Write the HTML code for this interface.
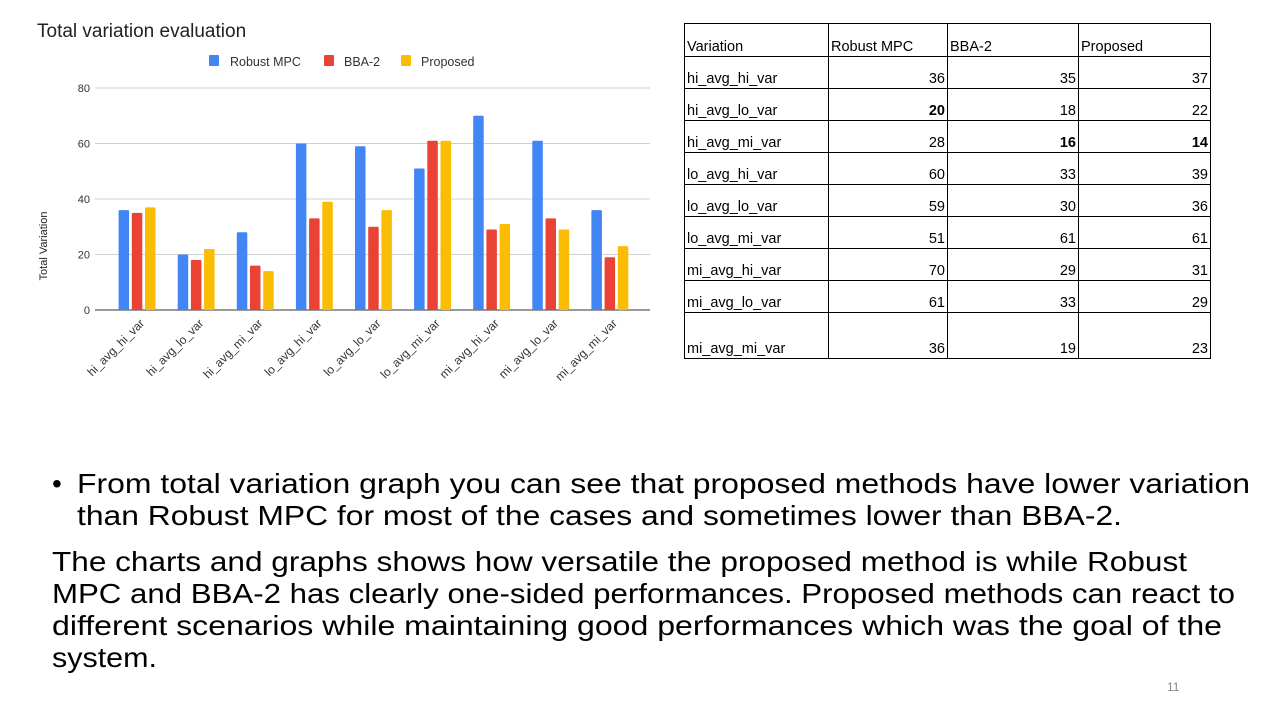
<!DOCTYPE html>
<html><head><meta charset="utf-8"><style>
body{margin:0;width:1280px;height:720px;background:#fff;font-family:"Liberation Sans",sans-serif;overflow:hidden;position:relative}
.abs{position:absolute}
table{border-collapse:collapse;position:absolute;left:684px;top:23px;font-size:14.5px;color:#000}
td{border:1px solid #000;padding:0 2px;vertical-align:bottom;height:31px;line-height:17px}
td.n{text-align:right}
.ln{position:absolute;font-size:28px;line-height:32px;white-space:nowrap;color:#000;transform-origin:0 0}
</style></head><body>
<svg class="abs" style="left:0;top:0" width="680" height="430" id="chart">
<text x="37" y="37" font-size="19" fill="#222">Total variation evaluation</text>
<g>
<rect x="209" y="55" width="10" height="11" rx="1" fill="#4285f4"/><text x="230" y="66" font-size="12.5" fill="#333">Robust MPC</text>
<rect x="324" y="55" width="10" height="11" rx="1" fill="#ea4335"/><text x="344" y="66" font-size="12.5" fill="#333">BBA-2</text>
<rect x="401" y="55" width="10" height="11" rx="1" fill="#fbbc04"/><text x="421" y="66" font-size="12.5" fill="#333">Proposed</text>
</g>
<text transform="translate(47,246) rotate(-90)" text-anchor="middle" font-size="11" fill="#222">Total Variation</text>
<g id="grid"></g><g id="bars"></g><g id="xl"></g>
</svg>
<table>
<tr style="height:33px"><td style="width:139px">Variation</td><td style="width:114px">Robust MPC</td><td style="width:126px">BBA-2</td><td style="width:127px">Proposed</td></tr>
<tr><td>hi_avg_hi_var</td><td class="n">36</td><td class="n">35</td><td class="n">37</td></tr>
<tr><td>hi_avg_lo_var</td><td class="n"><b>20</b></td><td class="n">18</td><td class="n">22</td></tr>
<tr><td>hi_avg_mi_var</td><td class="n">28</td><td class="n"><b>16</b></td><td class="n"><b>14</b></td></tr>
<tr><td>lo_avg_hi_var</td><td class="n">60</td><td class="n">33</td><td class="n">39</td></tr>
<tr><td>lo_avg_lo_var</td><td class="n">59</td><td class="n">30</td><td class="n">36</td></tr>
<tr><td>lo_avg_mi_var</td><td class="n">51</td><td class="n">61</td><td class="n">61</td></tr>
<tr><td>mi_avg_hi_var</td><td class="n">70</td><td class="n">29</td><td class="n">31</td></tr>
<tr><td>mi_avg_lo_var</td><td class="n">61</td><td class="n">33</td><td class="n">29</td></tr>
<tr style="height:46px"><td>mi_avg_mi_var</td><td class="n">36</td><td class="n">19</td><td class="n">23</td></tr>
</table>
<div>
<div class="ln" style="left:52px;top:468px">•</div>
<div class="ln fit" data-w="1173" style="left:77px;top:468px">From total variation graph you can see that proposed methods have lower variation</div>
<div class="ln fit" data-w="1045" style="left:77px;top:500px">than Robust MPC for most of the cases and sometimes lower than BBA-2.</div>
</div>
<div>
<div class="ln fit" data-w="1135" style="left:52px;top:546px">The charts and graphs shows how versatile the proposed method is while Robust</div>
<div class="ln fit" data-w="1183" style="left:52px;top:578px">MPC and BBA-2 has clearly one-sided performances. Proposed methods can react to</div>
<div class="ln fit" data-w="1170" style="left:52px;top:610px">different scenarios while maintaining good performances which was the goal of the</div>
<div class="ln fit" data-w="105" style="left:52px;top:642px">system.</div>
</div>
<div class="abs" style="left:1167px;top:680px;font-size:12px;color:#888">11</div>
<script>
const categories=["hi_avg_hi_var","hi_avg_lo_var","hi_avg_mi_var","lo_avg_hi_var","lo_avg_lo_var","lo_avg_mi_var","mi_avg_hi_var","mi_avg_lo_var","mi_avg_mi_var"];
const robustMPC=[36,20,28,60,59,51,70,61,36];
const bba2=[35,18,16,33,30,61,29,33,19];
const proposed=[37,22,14,39,36,61,31,29,23];
const yTicks=[0,20,40,60,80];
const NS="http://www.w3.org/2000/svg";
const y0=310,yTop=88,yMax=80,x0=107.5,gw=59.1,bw=10.5,pitch=13.2;
const ys=v=>y0-(v/yMax)*(y0-yTop);
const xc=i=>x0+gw*(i+0.5);
function mk(t,a,p){const e=document.createElementNS(NS,t);for(const k in a)e.setAttribute(k,a[k]);p.appendChild(e);return e;}
const grid=document.getElementById('grid');
yTicks.forEach(t=>{
 const l=mk('line',{x1:95,x2:650,y1:ys(t),y2:ys(t),stroke:t===0?'#333':'#d0d0d0','stroke-width':1},grid);
 
 
 const tx=mk('text',{x:90,y:ys(t)+4,'text-anchor':'end','font-size':11,fill:'#333'},grid);
 tx.textContent=t;
 
 
});
const bars=document.getElementById('bars');
const series=[[robustMPC,'#4285f4'],[bba2,'#ea4335'],[proposed,'#fbbc04']];
categories.forEach((c,i)=>{
 series.forEach(([arr,col],s)=>{
  const x=xc(i)+(s-1)*pitch-bw/2;
  const r=mk('rect',{x:x,y:ys(arr[i]),width:bw,height:y0-ys(arr[i]),fill:col,rx:1},bars);
  
  
 });
 const t=mk('text',{transform:`translate(${xc(i)+8},${y0+14}) rotate(-45)`,'text-anchor':'end','font-size':12,fill:'#333'},document.getElementById('xl'));
 t.textContent=c;
 
 
});
mk('line',{x1:95,x2:650,y1:y0,y2:y0,stroke:'#333'},grid);
document.querySelectorAll('.fit').forEach(e=>{
 const w=e.getBoundingClientRect().width;
 e.style.transform='scaleX('+(parseFloat(e.dataset.w)/w)+')';
});
</script>
</body></html>
